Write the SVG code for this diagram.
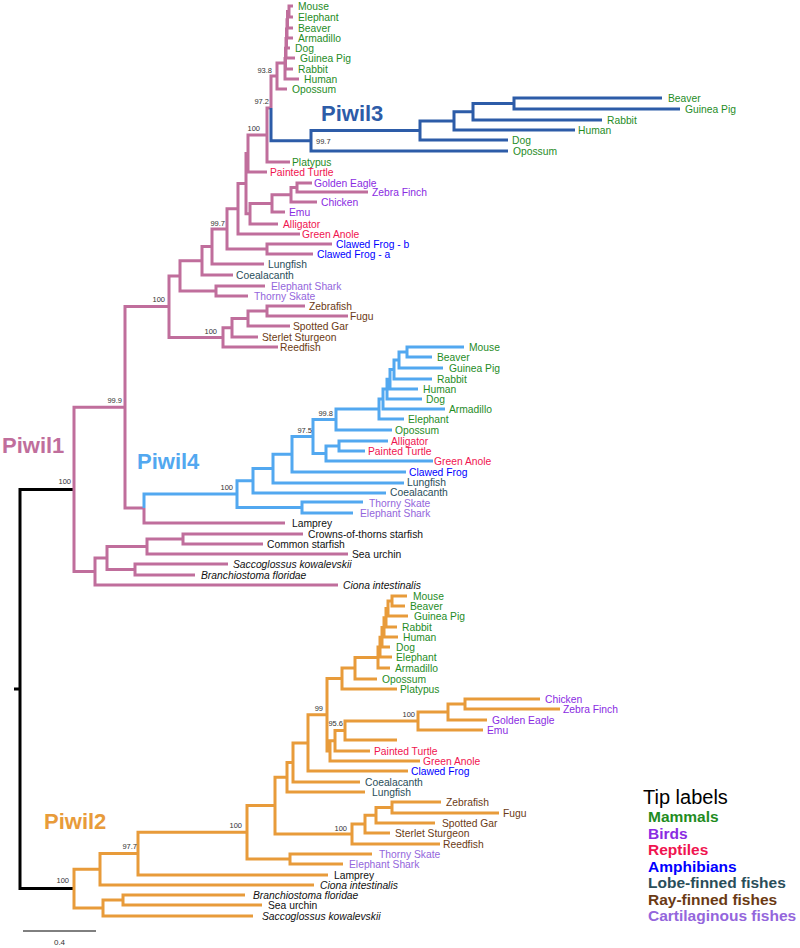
<svg xmlns="http://www.w3.org/2000/svg" width="800" height="948" viewBox="0 0 800 948">
<style>
.br{fill:none;stroke-width:3;stroke-linejoin:miter;stroke-linecap:butt}
.p1{stroke:#c06e9c}.p3{stroke:#2d5ca8}.p4{stroke:#52a8f0}.p2{stroke:#e89b3a}.rt{stroke:#000}
text{font-family:"Liberation Sans",Arial,sans-serif}
.t text{font-size:10.3px}
.mam{fill:#1f8c1f}.bird{fill:#8a2be2}.rep{fill:#f01450}.amp{fill:#0000ff}.lobe{fill:#2a4e5a}.ray{fill:#6b3a14}.cart{fill:#9466dc}.inv{fill:#111}
.it{font-style:italic}
.bs text{font-size:7.5px;fill:#333;text-anchor:end}
.pl{font-family:"Open Sans","Noto Sans",sans-serif;font-weight:700;font-size:22px}
.lg{font-weight:700;font-size:15.5px}
</style>
<rect width="800" height="948" fill="#fff"/>
<g id="connectors">
<path class="br rt" d="M74 489.4H20V888.6H74M14 689H20"/>
<path class="br p1" d="M293 6H289V17H293M289 11.5H287.5V28H293M287.5 19.75H287V38H293M287 28.9H286.5V48H290M286.5 38.4H286V58H295M286 48.2H285.5V69H293M285.5 58.6H285V79H299M285 63H277V89H287M277 76H271V108M271 108H267V162H290M267 135H248V172H267M312 183H297V192H368M297 187.5H291V202H317M291 194.75H272V212H285M272 203.4H250V224H278M248 153.5H246V213.7H250M246 183.6H238V234H300M332 244H267V254H313M238 208.8H227V249H267M227 228.9H212V264H264M212 246.5H202V275H233M265 286H216V296H248M202 260.7H180V291H216M305 306H267V316H348M267 311H248V326H290M248 318.5H232V337H258M232 327.75H223V347H278M180 275.9H169V337.4H223M169 306.6H125V508H144M144 508V523H285M303 534H183V544H263M183 539H147V554H348M228 564H135V575H195M147 546.5H107V569.5H135M107 558H95V585H338M125 407.3H74V571.5H95"/>
<path class="br p3" d="M271 108V140.7H311M662 98H514V109H680M514 103.5H473V120H602M473 111.75H454V130H575M454 120.9H420V140H508M420 130.4H311V151H508"/>
<path class="br p4" d="M464 347H407V357H432M407 352H399V368H443M399 360H394V379H432M394 369.5H390V389H418M390 379.25H387V399H422M387 389.1H383V409H445M383 399H379V419H404M379 409H336V430H392M388 441H339V451H365M339 446H326V461H433M336 419.5H313V453.5H326M313 436.5H292V472H406M292 454.25H273V483H404M273 468.6H253V493H386M363 502H302V513H353M253 480.8H237V507.5H302M237 494H144V508"/>
<path class="br p2" d="M407 596H392V606H405M392 601H388V616H408M388 608.5H386V627H397M386 617.75H384V637H398M384 627.4H382V647H390M382 637.2H380V657H392M380 647.1H378V668H390M378 657.5H355V679H377M355 668H342V689H397M540 699H465V709H560M465 704H448V720H487M448 712H418V730H483M418 721H345V740H397M345 730.5H335V751H370M335 740.75H330V761H420M342 678.5H327V750.9H330M327 714.7H308V771H408M308 742.9H293V782H360M293 762.4H287V792H365M441 802H392V813H499M392 807.5H376V823H435M376 815.25H365V833H390M365 824.1H352V844H440M287 777.2H275V834H352M372 854H290V864H343M275 805.6H247V859H290M247 832.3H138V875H328M138 853.6H100V885H314M245 895H123V905H262M123 900H103V916H253M100 869.3H74V908H103"/>
</g>
<g id="clade-labels" class="pl">
<text id="lab-piwil1" x="2" y="453" fill="#c06e9c">Piwil1</text>
<text id="lab-piwil3" x="321" y="121" fill="#2d5ca8">Piwil3</text>
<text id="lab-piwil4" x="137" y="469" fill="#52a8f0">Piwil4</text>
<text id="lab-piwil2" x="44" y="829" fill="#e89b3a">Piwil2</text>
</g>
<g id="bootstrap" class="bs">
<text x="272" y="73">93.8</text>
<text x="269" y="104">97.2</text>
<text x="260" y="131">100</text>
<text x="316" y="144" style="text-anchor:start">99.7</text>
<text x="225" y="226">99.7</text>
<text x="165" y="302">100</text>
<text x="217" y="334">100</text>
<text x="122" y="403">99.9</text>
<text x="333" y="416">99.8</text>
<text x="312" y="433">97.5</text>
<text x="233" y="490">100</text>
<text x="71" y="484">100</text>
<text x="323" y="711">99</text>
<text x="343" y="726">95.6</text>
<text x="415" y="717">100</text>
<text x="242" y="828">100</text>
<text x="347" y="831">100</text>
<text x="137" y="849">97.7</text>
<text x="69" y="883">100</text>
</g>
<g id="tips-piwil1" class="t">
<text class="mam" x="298" y="9.7">Mouse</text>
<text class="mam" x="298" y="20.7">Elephant</text>
<text class="mam" x="298" y="31.7">Beaver</text>
<text class="mam" x="298" y="41.7">Armadillo</text>
<text class="mam" x="295" y="51.7">Dog</text>
<text class="mam" x="300" y="61.7">Guinea Pig</text>
<text class="mam" x="298" y="72.7">Rabbit</text>
<text class="mam" x="304" y="82.7">Human</text>
<text class="mam" x="292" y="92.7">Opossum</text>
<text class="mam" x="292" y="165.7">Platypus</text>
<text class="rep" x="270" y="175.7">Painted Turtle</text>
<text class="bird" x="314" y="186.7">Golden Eagle</text>
<text class="bird" x="372" y="195.7">Zebra Finch</text>
<text class="bird" x="321" y="205.7">Chicken</text>
<text class="bird" x="289" y="215.7">Emu</text>
<text class="rep" x="283" y="227.7">Alligator</text>
<text class="rep" x="302" y="237.7">Green Anole</text>
<text class="amp" x="336" y="247.7">Clawed Frog - b</text>
<text class="amp" x="317" y="257.7">Clawed Frog - a</text>
<text class="lobe" x="268" y="267.7">Lungfish</text>
<text class="lobe" x="236" y="278.7">Coealacanth</text>
<text class="cart" x="271" y="289.7">Elephant Shark</text>
<text class="cart" x="254" y="299.7">Thorny Skate</text>
<text class="ray" x="309" y="309.7">Zebrafish</text>
<text class="ray" x="350" y="319.7">Fugu</text>
<text class="ray" x="293" y="329.7">Spotted Gar</text>
<text class="ray" x="262" y="340.7">Sterlet Sturgeon</text>
<text class="ray" x="280" y="350.7">Reedfish</text>
<text class="inv" x="308" y="537.7">Crowns-of-thorns starfish</text>
<text class="inv" x="267" y="547.7">Common starfish</text>
<text class="inv" x="352" y="557.7">Sea urchin</text>
<text class="inv it" x="233" y="567.7">Saccoglossus kowalevskii</text>
<text class="inv it" x="201" y="578.7">Branchiostoma floridae</text>
<text class="inv it" x="343" y="588.7">Ciona intestinalis</text>
</g>
<g id="tips-piwil3" class="t">
<text class="mam" x="668" y="101.7">Beaver</text>
<text class="mam" x="685" y="112.7">Guinea Pig</text>
<text class="mam" x="607" y="123.7">Rabbit</text>
<text class="mam" x="578" y="133.7">Human</text>
<text class="mam" x="512" y="143.7">Dog</text>
<text class="mam" x="513" y="155">Opossum</text>
</g>
<g id="tips-piwil4" class="t">
<text class="mam" x="469" y="350.7">Mouse</text>
<text class="mam" x="437" y="360.7">Beaver</text>
<text class="mam" x="449" y="371.7">Guinea Pig</text>
<text class="mam" x="437" y="382.7">Rabbit</text>
<text class="mam" x="423" y="392.7">Human</text>
<text class="mam" x="426" y="402.7">Dog</text>
<text class="mam" x="449" y="412.7">Armadillo</text>
<text class="mam" x="408" y="422.7">Elephant</text>
<text class="mam" x="395" y="433.7">Opossum</text>
<text class="rep" x="391" y="444.7">Alligator</text>
<text class="rep" x="368" y="454.7">Painted Turtle</text>
<text class="rep" x="434" y="464.7">Green Anole</text>
<text class="amp" x="409" y="475.7">Clawed Frog</text>
<text class="lobe" x="407" y="486.2">Lungfish</text>
<text class="lobe" x="390" y="496">Coealacanth</text>
<text class="cart" x="369" y="506.5">Thorny Skate</text>
<text class="cart" x="360" y="517">Elephant Shark</text>
<text class="inv" x="292" y="527">Lamprey</text>
</g>
<g id="tips-piwil2" class="t">
<text class="mam" x="413" y="599.7">Mouse</text>
<text class="mam" x="410" y="609.7">Beaver</text>
<text class="mam" x="414" y="619.7">Guinea Pig</text>
<text class="mam" x="402" y="630.7">Rabbit</text>
<text class="mam" x="403" y="640.7">Human</text>
<text class="mam" x="396" y="650.7">Dog</text>
<text class="mam" x="396" y="660.7">Elephant</text>
<text class="mam" x="395" y="671.7">Armadillo</text>
<text class="mam" x="382" y="682.7">Opossum</text>
<text class="mam" x="400" y="692.7">Platypus</text>
<text class="bird" x="545" y="702.7">Chicken</text>
<text class="bird" x="563" y="712.7">Zebra Finch</text>
<text class="bird" x="492" y="723.7">Golden Eagle</text>
<text class="bird" x="487" y="733.7">Emu</text>
<text class="rep" x="374" y="754.7">Painted Turtle</text>
<text class="rep" x="423" y="764.7">Green Anole</text>
<text class="amp" x="411" y="774.7">Clawed Frog</text>
<text class="lobe" x="365" y="785.7">Coealacanth</text>
<text class="lobe" x="372" y="795.7">Lungfish</text>
<text class="ray" x="446" y="805.7">Zebrafish</text>
<text class="ray" x="503" y="816.7">Fugu</text>
<text class="ray" x="442" y="826.7">Spotted Gar</text>
<text class="ray" x="395" y="836.7">Sterlet Sturgeon</text>
<text class="ray" x="443" y="847.7">Reedfish</text>
<text class="cart" x="379" y="857.7">Thorny Skate</text>
<text class="cart" x="349" y="867.7">Elephant Shark</text>
<text class="inv" x="334" y="878.7">Lamprey</text>
<text class="inv it" x="320" y="888.7">Ciona intestinalis</text>
<text class="inv it" x="253" y="898.7">Branchiostoma floridae</text>
<text class="inv" x="268" y="908.7">Sea urchin</text>
<text class="inv it" x="262" y="919.7">Saccoglossus kowalevskii</text>
</g>
<g id="legend">
<text x="643" y="804" font-size="20" fill="#000">Tip labels</text>
<text class="lg mam" x="648" y="822">Mammals</text>
<text class="lg bird" x="648" y="838.5">Birds</text>
<text class="lg rep" x="648" y="855">Reptiles</text>
<text class="lg amp" x="648" y="871.5">Amphibians</text>
<text class="lg lobe" x="648" y="888">Lobe-finned fishes</text>
<text class="lg ray" x="648" y="904.5">Ray-finned fishes</text>
<text class="lg cart" x="648" y="921">Cartilaginous fishes</text>
</g>
<g id="scale-bar">
<path d="M23 931H96" stroke="#000" stroke-width="1"/>
<text x="59.5" y="945" font-size="8" text-anchor="middle" fill="#333">0.4</text>
</g>
</svg>
